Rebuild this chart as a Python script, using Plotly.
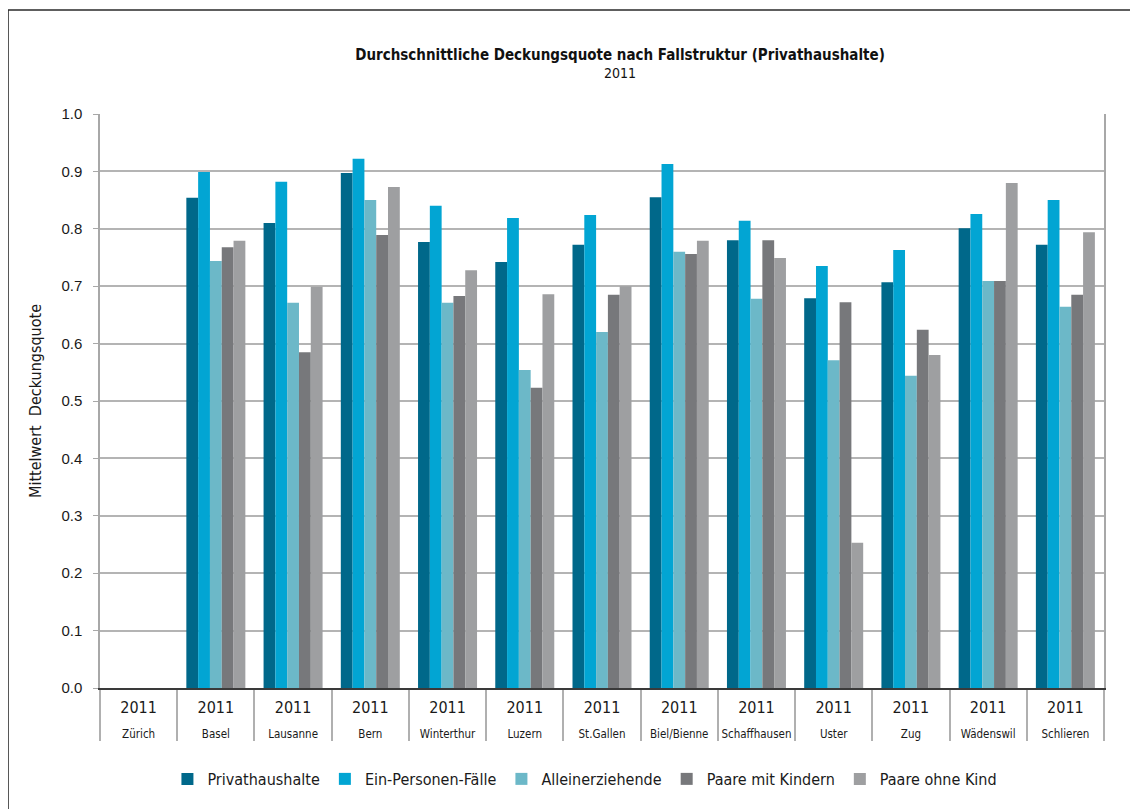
import plotly.graph_objects as go

cities = ["Zürich", "Basel", "Lausanne", "Bern", "Winterthur", "Luzern", "St.Gallen",
          "Biel/Bienne", "Schaffhausen", "Uster", "Zug", "Wädenswil", "Schlieren"]
year = "2011"

privathaushalte = [None, 0.854, 0.810, 0.897, 0.777, 0.742, 0.772, 0.855, 0.780, 0.679, 0.707, 0.801, 0.772]
ein_personen    = [None, 0.899, 0.882, 0.922, 0.840, 0.819, 0.824, 0.913, 0.814, 0.735, 0.763, 0.826, 0.850]
alleinerziehend = [None, 0.744, 0.671, 0.850, 0.671, 0.554, 0.620, 0.760, 0.678, 0.571, 0.544, 0.709, 0.664]
paare_kinder    = [None, 0.768, 0.585, 0.789, 0.683, 0.523, 0.685, 0.756, 0.780, 0.672, 0.624, 0.709, 0.685]
paare_ohne      = [None, 0.779, 0.699, 0.873, 0.728, 0.686, 0.700, 0.779, 0.749, 0.253, 0.580, 0.880, 0.794]

series = [
    ("Privathaushalte", privathaushalte, "#00688a"),
    ("Ein-Personen-Fälle", ein_personen, "#02a5d3"),
    ("Alleinerziehende", alleinerziehend, "#6cb8c8"),
    ("Paare mit Kindern", paare_kinder, "#77787b"),
    ("Paare ohne Kind", paare_ohne, "#9e9fa1"),
]

NARROW = "Liberation Sans Narrow, DejaVu Sans Condensed, Arial Narrow, sans-serif"

# outer level = city (below), inner level = year (next to the axis)
x_outer = ["<span style='font-size:11.5px;baseline-shift:-3.5px'>%s</span>" % c for c in cities]
x_inner = ["<span style='font-size:16px'>%s</span>" % year] * len(cities)

fig = go.Figure()
for name, vals, col in series:
    fig.add_trace(go.Bar(x=[x_outer, x_inner], y=vals, name=name,
                         marker=dict(color=col, line=dict(width=0))))

# page body adds 8px offset, so the figure is 8px smaller than the window
fig.update_layout(
    width=1130, height=801,
    margin=dict(l=92, r=34, t=106, b=121),
    plot_bgcolor="white", paper_bgcolor="white",
    barmode="group", bargap=0.236, bargroupgap=0,
    font=dict(family=NARROW, color="#1a1a1a"),
    title=dict(text="<b>Durchschnittliche Deckungsquote nach Fallstruktur (Privathaushalte)</b>",
               font=dict(size=15, family=NARROW, color="#111"),
               x=0.5416, xanchor="center", yref="container", y=0.9413, yanchor="middle"),
    legend=dict(orientation="h", x=0.483, xanchor="center", y=-0.1585, yanchor="middle",
                font=dict(size=16, family=NARROW), itemwidth=30),
    showlegend=True,
)
fig.add_annotation(text="2011", xref="paper", yref="paper", x=0.518, y=1.0714,
                   xanchor="center", yanchor="middle", showarrow=False,
                   font=dict(size=14, family=NARROW, color="#111"))

fig.update_xaxes(
    type="multicategory", showline=True, linecolor="#3a3a3a", linewidth=1.5,
    showdividers=True, dividercolor="#b0b0b0", dividerwidth=1.5,
    tickfont=dict(size=19, family=NARROW, color="#1a1a1a"), ticks="",
)
fig.update_yaxes(
    range=[0, 1.0], dtick=0.1, tickformat=".1f",
    showgrid=True, gridcolor="#b4b4b4", gridwidth=1.5,
    showline=True, linecolor="#a8a8a8", linewidth=1.5, mirror=True,
    ticks="outside", ticklen=5, tickcolor="#a8a8a8", ticklabelstandoff=8,
    tickfont=dict(size=15, family="Liberation Sans, Arial, sans-serif", color="#1a1a1a"),
    title=dict(text="Mittelwert  Deckungsquote", standoff=16,
               font=dict(size=16, family=NARROW, color="#1a1a1a")),
    zeroline=False,
)

# outer frame of the chart image
fig.add_shape(type="rect", xref="paper", yref="paper",
              x0=-0.0916, x1=1.05, y0=-0.25, y1=1.1813,
              line=dict(color="#2a2a2a", width=1.5), fillcolor="rgba(0,0,0,0)", layer="below")

fig.write_html("out.html")
